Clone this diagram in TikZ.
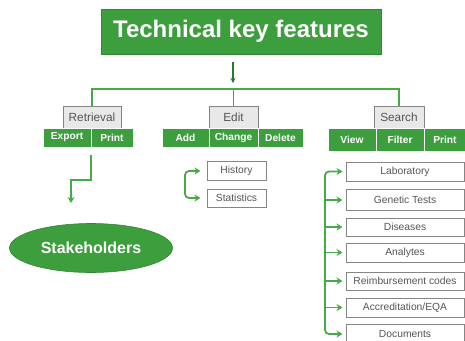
\documentclass[tikz,border=0pt]{standalone}
\usepackage{fontspec}
\setmainfont{Liberation Sans}
\usetikzlibrary{arrows.meta,shapes.geometric}
\definecolor{kgreen}{HTML}{3C9E3C}
\definecolor{lgreen}{HTML}{46AA46}
\definecolor{gbox}{HTML}{E8E8E8}
\definecolor{gline}{HTML}{858585}
\definecolor{gtext}{HTML}{555555}
\begin{document}
\begin{tikzpicture}[x=1pt,y=-1pt,
 cell/.style={draw=white, line width=0.8pt, fill=kgreen, text=white, font=\bfseries\fontsize{10.2}{11}\selectfont, inner sep=0pt, minimum height=19pt},
 grp/.style={draw=gline, line width=1pt, fill=gbox, text=gtext, font=\fontsize{11.8}{13}\selectfont, inner sep=0pt, minimum height=22pt},
 item/.style={draw=gline, line width=1pt, fill=white, text=gtext, font=\fontsize{10.3}{11}\selectfont, inner sep=0pt, minimum height=19pt},
 conn/.style={draw=lgreen, line width=1.8pt},
 arr/.style={conn, -{Stealth[length=6pt,width=7pt]}},
]
\useasboundingbox (0,0) rectangle (465,340);
% title
\node[fill=kgreen, draw=kgreen!85!black, line width=0.6pt, text=white, font=\bfseries\fontsize{24}{26}\selectfont, minimum width=280pt, minimum height=45pt, inner sep=0pt] (title) at (241,31.5) {Technical key features};
\coordinate (ta1) at (233,62);
\coordinate (ta2) at (233,83);
\draw[draw=kgreen!75!black, line width=1.3pt, -{Stealth[length=5pt,width=5pt]}] (ta1) -- (ta2);
% group boxes
\node[grp, minimum width=58pt] (retr) at (92,117) {Retrieval};
\node[grp, minimum width=49pt] (edit) at (233.5,117) {Edit};
\node[grp, minimum width=50pt] (search) at (399,117) {Search};
\coordinate (bus) at (233.5,89);
\draw[conn] (retr.north) |- (bus) -| (search.north);
\draw[conn] (edit.north) -- (bus);
% cells
\node[cell, minimum width=48pt] (export) at (67,137.5) {Export};
\node[cell, minimum width=42pt] (rprint) at (112,137.5) {Print};
\node[cell, minimum width=47pt] (add) at (185.5,137.5) {Add};
\node[cell, minimum width=49pt] (change) at (233.5,137.5) {Change};
\node[cell, minimum width=45pt] (delete) at (280.5,137.5) {Delete};
\node[cell, minimum width=48pt, minimum height=23pt] (view) at (352,139.5) {View};
\node[cell, minimum width=48pt, minimum height=23pt] (filter) at (400,139.5) {Filter};
\node[cell, minimum width=42pt, minimum height=23pt] (sprint) at (445,139.5) {Print};
% retrieval -> stakeholders
\node[ellipse, fill=kgreen, draw=kgreen!85!black, line width=0.6pt, text=white, font=\bfseries\fontsize{16}{18}\selectfont, minimum width=163pt, minimum height=49pt, inner sep=0pt] (stake) at (91,248) {Stakeholders};
\coordinate (r1) at (91,155);
\coordinate (rm) at (81,180);
\coordinate (r2) at (71,203);
\draw[arr] (r1) |- (rm) -| (r2);
% edit items
\node[item, minimum width=59pt] (hist) at (236.5,171) {History};
\node[item, minimum width=59pt, minimum height=18pt] (stat) at (236.5,198) {Statistics};
\coordinate (eb) at (185,184);
\draw[arr, rounded corners=4pt] (eb) |- ([xshift=-6pt]hist.west);
\draw[arr, rounded corners=4pt] (eb) |- ([xshift=-6pt]stat.west);
% search items
\node[item, minimum width=118pt] (s1) at (405,171.5) {Laboratory};
\node[item, minimum width=118pt, minimum height=21pt] (s2) at (405,200) {Genetic Tests};
\node[item, minimum width=118pt, minimum height=18pt] (s3) at (405,227) {Diseases};
\node[item, minimum width=118pt] (s4) at (405,252.5) {Analytes};
\node[item, minimum width=118pt, minimum height=18pt] (s5) at (405,281) {Reimbursement codes};
\node[item, minimum width=118pt] (s6) at (405,307.5) {Accreditation/EQA};
\node[item, minimum width=118pt] (s7) at (405,334) {Documents};
\coordinate (sb) at (325,250);
\draw[arr, rounded corners=4pt] (sb) |- ([xshift=-3pt]s1.west);
\draw[arr, rounded corners=4pt] (sb) |- ([xshift=-3pt]s7.west);
\foreach \n in {s2,s3,s4,s5,s6}{
  \draw[arr] (\n.west -| sb) -- ([xshift=-3pt]\n.west);
}
\end{tikzpicture}
\end{document}
